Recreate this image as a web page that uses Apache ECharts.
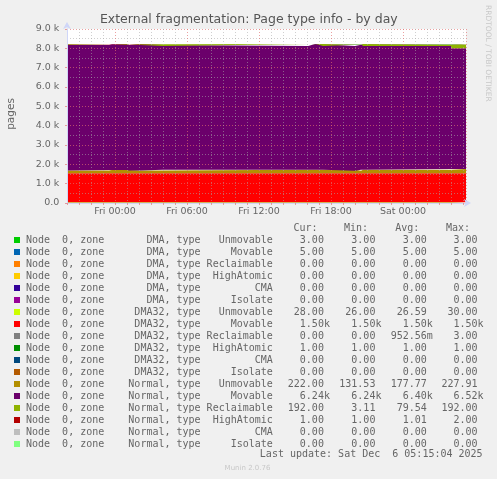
<!DOCTYPE html>
<html><head><meta charset="utf-8">
<script src="https://cdn.jsdelivr.net/npm/echarts@6/dist/echarts.min.js"></script>
<style>html,body{margin:0;padding:0;background:#F0F0F0;}#c{width:497px;height:479px;}</style>
</head><body><div id="c"></div>
<script>
// hours relative to Fri 5 Dec 2025 00:00 (plot spans Thu 20:00 .. Sat 05:15)
const times = [-4, -0.5, -0.4, -0.25, -0.1, 1.0, 1.17, 2.1, 4.0, 16.1, 16.25, 16.67, 16.83, 17.33, 20.0, 20.5, 20.67, 28.0, 29.25];
const startHour = -4;
const endHour = 29.25;
const tickHours = [0, 6, 12, 18, 24];
const tickLabels = ['Fri 00:00', 'Fri 06:00', 'Fri 12:00', 'Fri 18:00', 'Sat 00:00'];

const zones = ['DMA','DMA','DMA','DMA','DMA','DMA','DMA32','DMA32','DMA32','DMA32','DMA32','DMA32','Normal','Normal','Normal','Normal','Normal','Normal'];
const types = ['Unmovable','Movable','Reclaimable','HighAtomic','CMA','Isolate','Unmovable','Movable','Reclaimable','HighAtomic','CMA','Isolate','Unmovable','Movable','Reclaimable','HighAtomic','CMA','Isolate'];
const colors = ['#00CC00','#0066B3','#FF8000','#FFCC00','#330099','#990099','#CCFF00','#FF0000','#808080','#008F00','#00487D','#B35A00','#B38F00','#6B006B','#8FB300','#B30000','#BEBEBE','#80FF80'];

const dmaUnmovable      = [3,3,3,3,3,3,3,3,3,3,3,3,3,3,3,3,3,3,3];
const dmaMovable        = [5,5,5,5,5,5,5,5,5,5,5,5,5,5,5,5,5,5,5];
const dmaReclaimable    = [0,0,0,0,0,0,0,0,0,0,0,0,0,0,0,0,0,0,0];
const dmaHighAtomic     = [0,0,0,0,0,0,0,0,0,0,0,0,0,0,0,0,0,0,0];
const dmaCMA            = [0,0,0,0,0,0,0,0,0,0,0,0,0,0,0,0,0,0,0];
const dmaIsolate        = [0,0,0,0,0,0,0,0,0,0,0,0,0,0,0,0,0,0,0];
const dma32Unmovable    = [26,26,26,26,26,26,26,26,26,26,30,28,26,26,26,26,26,28,28];
const dma32Movable      = [1502,1502,1502,1502,1502,1502,1502,1502,1502,1502,1502,1502,1502,1502,1502,1502,1502,1502,1502];
const dma32Reclaimable  = [0,0,0,0,0,0,0,0,3,0,0,0,0,0,0,0,0,0,0];
const dma32HighAtomic   = [1,1,1,1,1,1,1,1,1,1,1,1,1,1,1,1,1,1,1];
const dma32CMA          = [0,0,0,0,0,0,0,0,0,0,0,0,0,0,0,0,0,0,0];
const dma32Isolate      = [0,0,0,0,0,0,0,0,0,0,0,0,0,0,0,0,0,0,0];
const normalUnmovable   = [150,150,175,175,175,175,150,150,183,160,183,183,183,183,132,183,183,222,222];
const normalMovable     = [6490,6527,6502,6465,6502,6465,6527,6490,6400,6520,6497,6440,6497,6400,6520,6497,6400,6240,6240];
const normalReclaimable = [40,3,3,40,3,40,3,40,100,3,3,60,3,100,3,3,100,192,192];
const normalHighAtomic  = [1,1,1,1,1,1,1,1,1,1,2,1,1,1,1,1,1,1,1];
const normalCMA         = [0,0,0,0,0,0,0,0,0,0,0,0,0,0,0,0,0,0,0];
const normalIsolate     = [0,0,0,0,0,0,0,0,0,0,0,0,0,0,0,0,0,0,0];

const seriesValues = [dmaUnmovable, dmaMovable, dmaReclaimable, dmaHighAtomic, dmaCMA, dmaIsolate,
  dma32Unmovable, dma32Movable, dma32Reclaimable, dma32HighAtomic, dma32CMA, dma32Isolate,
  normalUnmovable, normalMovable, normalReclaimable, normalHighAtomic, normalCMA, normalIsolate];

const statCur = ['3.00','5.00','0.00','0.00','0.00','0.00','28.00','1.50k','0.00','1.00','0.00','0.00','222.00','6.24k','192.00','1.00','0.00','0.00'];
const statMin = ['3.00','5.00','0.00','0.00','0.00','0.00','26.00','1.50k','0.00','1.00','0.00','0.00','131.53','6.24k','3.11','1.00','0.00','0.00'];
const statAvg = ['3.00','5.00','0.00','0.00','0.00','0.00','26.59','1.50k','952.56m','1.00','0.00','0.00','177.77','6.40k','79.54','1.01','0.00','0.00'];
const statMax = ['3.00','5.00','0.00','0.00','0.00','0.00','30.00','1.50k','3.00','1.00','0.00','0.00','227.91','6.52k','192.00','2.00','0.00','0.00'];
const statHeaders = ['Cur:', 'Min:', 'Avg:', 'Max:'];

const titleText = 'External fragmentation: Page type info - by day';
const yName = 'pages';
const lastUpdate = 'Last update: Sat Dec  6 05:15:04 2025';
const credit = 'RRDTOOL / TOBI OETIKER';
const version = 'Munin 2.0.76';

const HOUR = 3600 * 1000;
const base = new Date(2025, 11, 5, 0, 0, 0).getTime();
const FONT = '"DejaVu Sans", sans-serif';
const MONO = '"DejaVu Sans Mono", monospace';
const TXT = '#666666';
const MINOR = 'rgba(170,170,170,0.55)';
const MAJOR = 'rgba(225,110,110,0.65)';

const series = seriesValues.map((vals, i) => ({
  name: zones[i] + ' ' + types[i],
  type: 'line',
  xAxisIndex: 0,
  stack: 'total',
  step: 'end',
  symbol: 'none',
  silent: true,
  lineStyle: { width: 0 },
  areaStyle: { color: colors[i], opacity: 1 },
  itemStyle: { color: colors[i] },
  emphasis: { disabled: true },
  data: times.map((t, j) => [base + t * HOUR, vals[j]])
}));

const graphic = [];
graphic.push({ type: 'text', x: 248.8, y: 19.7, style: { text: titleText, font: '12.5px ' + FONT, fill: '#555', align: 'center', verticalAlign: 'middle' } });
graphic.push({ type: 'text', x: 11, y: 114, rotation: Math.PI / 2, style: { text: yName, font: '10.5px ' + FONT, fill: TXT, align: 'center', verticalAlign: 'middle' } });
graphic.push({ type: 'text', x: 487.5, y: 53.3, rotation: -Math.PI / 2, style: { text: credit, font: '7.5px ' + FONT, fill: '#C8C8C8', align: 'center', verticalAlign: 'middle' } });

const colX = [287.8, 339.3, 390.7, 441.5];
const headX = [293.4, 344.0, 395.3, 446.0];
statHeaders.forEach((h, k) => graphic.push({ type: 'text', x: headX[k], y: 228.6, style: { text: h, font: '10px ' + MONO, fill: TXT, align: 'left', verticalAlign: 'middle' } }));

const stats = [statCur, statMin, statAvg, statMax];
for (let i = 0; i < zones.length; i++) {
  const y = 240 + 12 * i;
  graphic.push({ type: 'rect', shape: { x: 14, y: y - 3, width: 6, height: 6 }, style: { fill: colors[i] } });
  const label = 'Node  0, zone ' + zones[i].padStart(9, ' ') + ', type ' + types[i].padStart(11, ' ');
  graphic.push({ type: 'text', x: 26, y: y, style: { text: label, font: '10px ' + MONO, fill: TXT, align: 'left', verticalAlign: 'middle' } });
  stats.forEach((arr, k) => {
    const s = arr[i];
    const suf = /[km]$/.test(s) ? s.slice(-1) : '';
    const num = suf ? s.slice(0, -1) : s;
    const xr = colX[k] + 36.1;
    graphic.push({ type: 'text', x: xr, y: y, style: { text: num, font: '10px ' + MONO, fill: TXT, align: 'right', verticalAlign: 'middle' } });
    if (suf) graphic.push({ type: 'text', x: xr, y: y, style: { text: suf, font: '10px ' + MONO, fill: TXT, align: 'left', verticalAlign: 'middle' } });
  });
}
graphic.push({ type: 'text', x: 482.6, y: 454.6, style: { text: lastUpdate, font: '10px ' + MONO, fill: TXT, align: 'right', verticalAlign: 'middle' } });
graphic.push({ type: 'text', x: 247.5, y: 468, style: { text: version, font: '7px ' + FONT, fill: '#C8C8C8', align: 'center', verticalAlign: 'middle' } });

const chart = echarts.init(document.getElementById('c'), null, { renderer: 'canvas' });
chart.setOption({
  animation: false,
  backgroundColor: '#F0F0F0',
  grid: { left: 67, right: 31, top: 29, bottom: 276, show: true, backgroundColor: '#FFFFFF', borderWidth: 0, containLabel: false },
  xAxis: [{
    // data axis (time), hidden
    type: 'time', min: base + startHour * HOUR, max: base + endHour * HOUR, show: false
  }, {
    // grid / label axis in hours relative to Fri 00:00 (same extent)
    type: 'value', min: startHour, max: endHour, interval: 1, z: 5, position: 'bottom',
    axisLine: { show: true, onZero: false, lineStyle: { color: '#CFD6F8', width: 1 }, symbol: ['none', 'arrow'], symbolSize: [6, 7], symbolOffset: [0, 5] },
    axisTick: { show: true, length: 2, interval: 0, lineStyle: { color: MAJOR } },
    axisLabel: {
      interval: 0, margin: 4, color: TXT, fontFamily: FONT, fontSize: 9.5, hideOverlap: false,
      formatter: v => { const k = tickHours.indexOf(Math.round(v * 100) / 100); return k >= 0 ? tickLabels[k] : ''; }
    },
    splitLine: { show: true, lineStyle: { color: [MINOR, MINOR, MINOR, MINOR, MAJOR, MINOR], type: [1, 2], width: 1 } }
  }],
  yAxis: {
    type: 'value', min: 0, max: 9000, interval: 1000, z: 5, position: 'left',
    axisLine: { show: true, onZero: false, lineStyle: { color: '#CFD6F8', width: 1 }, symbol: ['none', 'arrow'], symbolSize: [6, 7], symbolOffset: [0, 7] },
    axisTick: { show: true, length: 2, lineStyle: { color: MAJOR } },
    axisLabel: { margin: 7.7, color: TXT, fontFamily: FONT, fontSize: 9.5, formatter: v => v === 0 ? '0.0' : (v / 1000).toFixed(1) + ' k' },
    splitLine: { show: true, lineStyle: { color: MAJOR, type: [1, 2], width: 1 } },
    minorTick: { show: false, splitNumber: 2 },
    minorSplitLine: { show: true, lineStyle: { color: MINOR, type: [1, 2], width: 1 } }
  },
  series: series,
  graphic: graphic
});
</script>
</body></html>
